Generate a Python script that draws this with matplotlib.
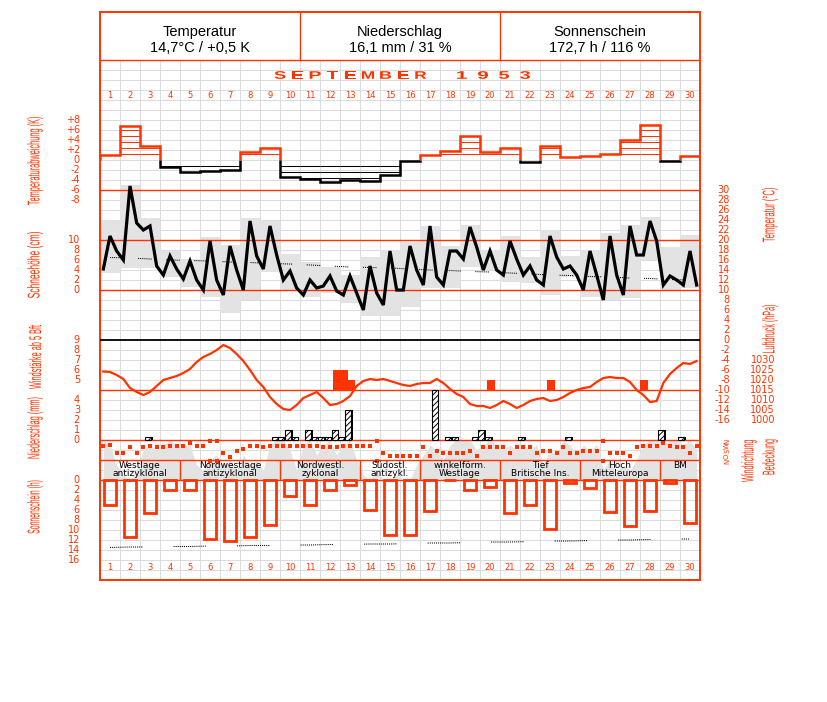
import numpy as np
import matplotlib
matplotlib.use("Agg")
import matplotlib.pyplot as plt
from matplotlib.patches import Rectangle, PathPatch
from matplotlib.textpath import TextPath
from matplotlib.font_manager import FontProperties
from matplotlib.transforms import Affine2D, IdentityTransform

plt.rcParams["font.family"] = ["DejaVu Sans"]

RED = "#ff3300"
GREY = "#e3e3e3"
GRID = "#dcdcdc"
W, H = 827, 702

# ---- data (September 1953) ----
days = np.arange(1, 31)

# daily temperature deviation (K)
temp_dev = [1.0, 6.8, 2.8, -1.4, -2.4, -2.2, -2.0, 1.6, 2.4, -3.4,
            -3.8, -4.4, -4.0, -4.2, -3.0, -0.2, 1.0, 1.8, 4.8, 1.6,
            2.4, -0.4, 2.8, 0.6, 0.8, 1.2, 4.0, 7.0, -0.2, 0.8]

# daily extremes and climatological mean (deg C)
temp_max = [24.0, 31.0, 24.4, 17.8, 16.2, 20.6, 19.0, 24.4, 23.8, 17.2,
            15.6, 14.6, 13.0, 16.6, 18.0, 19.6, 22.8, 18.8, 23.0, 18.0,
            20.8, 16.6, 22.0, 16.8, 18.0, 21.4, 23.0, 24.6, 18.6, 21.0]
temp_min = [13.4, 14.4, 14.4, 12.6, 10.6, 8.6, 5.4, 8.0, 13.6, 10.0,
            8.6, 9.4, 7.4, 4.8, 4.8, 6.6, 10.4, 10.4, 14.6, 14.0,
            11.6, 11.4, 9.0, 12.6, 8.6, 8.0, 8.4, 16.0, 10.0, 10.4]
temp_norm = [16.5, 16.4, 16.2, 16.0, 15.9, 15.8, 15.6, 15.5, 15.3, 15.2,
             15.0, 14.8, 14.6, 14.5, 14.4, 14.2, 14.0, 13.9, 13.7, 13.6,
             13.4, 13.2, 13.0, 12.9, 12.7, 12.6, 12.4, 12.3, 12.1, 12.0]

# temperature at the three daily observations (deg C)
temp_obs = [14.2, 20.8, 17.8, 16.0, 30.8, 23.4, 22.0, 22.8, 14.8, 13.0,
            16.8, 14.2, 12.2, 15.8, 12.0, 10.0, 19.8, 12.0, 9.0, 18.8,
            14.0, 10.0, 23.8, 16.8, 14.2, 22.8, 17.0, 12.0, 13.8, 10.4,
            9.0, 12.0, 10.4, 10.8, 12.8, 9.8, 9.0, 12.8, 9.4, 6.0,
            14.8, 9.4, 7.0, 17.8, 10.0, 10.0, 18.8, 14.0, 11.0, 22.8,
            12.6, 11.0, 17.8, 17.8, 16.2, 22.6, 18.6, 14.0, 17.8, 14.0,
            13.0, 19.8, 16.2, 13.0, 14.8, 12.0, 11.0, 20.8, 16.6, 14.2,
            14.8, 13.0, 10.0, 17.8, 13.0, 8.0, 20.8, 13.0, 9.0, 22.8,
            17.0, 17.0, 23.8, 19.8, 11.0, 12.8, 12.0, 11.0, 17.8, 11.0]

# air pressure (hPa)
pressure = [1024.25, 1024, 1022.5, 1020.5, 1016, 1014, 1012.5, 1014, 1017, 1020,
            1021, 1022, 1023.5, 1025.5, 1029, 1031.5, 1033, 1035, 1037.5, 1036,
            1033, 1029.5, 1025, 1020, 1016.5, 1011.5, 1008, 1005.5, 1005, 1007.5,
            1011, 1012.5, 1014, 1011, 1007.5, 1008, 1009.5, 1012, 1017, 1019.5,
            1020.5, 1020, 1020.5, 1019.5, 1018.5, 1017.5, 1017, 1018, 1018.5, 1018.5,
            1020.5, 1018.5, 1015.5, 1013, 1011.5, 1008, 1007, 1007, 1006, 1007.5,
            1009.5, 1008, 1006, 1007.5, 1009.5, 1010.5, 1011, 1009.5, 1010, 1011.5,
            1013.5, 1015, 1016, 1016.5, 1019, 1021, 1021.5, 1021, 1021, 1019,
            1015, 1012.5, 1009, 1009.5, 1018.5, 1023, 1026, 1028.5, 1028, 1029.5]

# wind direction (deg) at the observations
wind_dir = [270, 288, 144, 144, 252, 144, 252, 270, 252, 252,
            270, 270, 270, 324, 270, 270, 360, 360, 144, 72,
            180, 216, 270, 270, 252, 270, 270, 270, 270, 270,
            270, 270, 270, 252, 252, 252, 270, 270, 270, 270,
            270, 360, 144, 90, 90, 90, 90, 90, 252, 90,
            180, 144, 144, 144, 144, 180, 90, 252, 252, 252,
            252, 144, 252, 252, 252, 144, 180, 180, 144, 252,
            144, 144, 180, 180, 180, 360, 144, 144, 144, 90,
            252, 270, 270, 270, 324, 270, 252, 252, 144, 270]

# cloud cover (octas) at the observations
cloud = [8, 7, 3, 1, 0, 2, 6, 7, 6, 7,
         8, 7, 7, 7, 3, 2, 4, 5, 3, 4,
         2, 5, 3, 4, 2, 7, 8, 8, 6, 2,
         7, 8, 5, 7, 8, 5, 7, 8, 4, 1,
         0, 2, 0, 0, 1, 0, 0, 3, 5, 7,
         6, 4, 7, 8, 8, 8, 6, 7, 8, 7,
         6, 7, 6, 7, 6, 7, 3, 6, 5, 8,
         7, 5, 7, 6, 7, 2, 4, 1, 3, 2,
         4, 7, 8, 8, 7, 8, 8, 7, 8, 6]

# wind force from 5 Bft on (observation index, Bft)
wind_obs = [35, 36, 37, 58, 67, 81]
wind_bft = [6, 6, 5, 5, 5, 5]

# precipitation (observation index, mm)
rain_obs = [7, 26, 27, 28, 29, 31, 32, 33, 34, 35, 36, 37, 50, 52, 53, 56, 57, 58, 63, 70, 84, 87]
rain_mm = [0.3, 0.3, 0.3, 1.0, 0.3, 1.0, 0.3, 0.3, 0.3, 1.0, 0.3, 3.0,
           5.0, 0.3, 0.3, 0.3, 1.0, 0.3, 0.3, 0.3, 1.0, 0.3]

# sunshine duration (h) and possible sunshine (h)
sunshine = [5.0, 11.4, 6.6, 2.0, 2.0, 11.8, 12.2, 11.4, 9.0, 3.2,
            5.0, 2.0, 1.0, 6.0, 11.0, 11.0, 6.2, 0.0, 2.0, 1.4,
            6.6, 5.0, 9.8, 0.6, 1.6, 6.4, 9.2, 6.2, 0.6, 8.6]
sun_possible = [13.5, 13.4, 13.4, 13.3, 13.3, 13.2, 13.2, 13.1, 13.1, 13.0,
                13.0, 12.9, 12.9, 12.8, 12.8, 12.7, 12.6, 12.6, 12.5, 12.4,
                12.4, 12.3, 12.2, 12.2, 12.1, 12.0, 12.0, 11.9, 11.8, 11.8]

weather_types = ["Westlage\nantizyklonal", "Nordwestlage\nantizyklonal", "Nordwestl.\nzyklonal",
                 "Südostl.\nantizykl.", "winkelförm.\nWestlage", "Tief\nBritische Ins.",
                 "Hoch\nMitteleuropa", "BM"]
weather_first = [1, 5, 10, 14, 17, 21, 25, 29]
weather_last = [4, 9, 13, 16, 20, 24, 28, 30]

header_titles = ["Temperatur", "Niederschlag", "Sonnenschein"]
header_values = ["14,7°C / +0,5 K", "16,1 mm / 31 %", "172,7 h / 116 %"]

x_obs = (np.arange(len(temp_obs)) + 0.5) / 3

fig = plt.figure(figsize=(W / 100, H / 100), dpi=100)


def panel(top, bottom, v_top, v_bottom):
    # axes spanning the day columns between two pixel rows
    ax = fig.add_axes([100 / W, 1 - bottom / H, 600 / W, (bottom - top) / H])
    ax.set_xlim(0, 30)
    ax.set_ylim(v_bottom, v_top)
    ax.set_axis_off()
    return ax


def labels(ax, x_px, values, texts, ha="right", size=7, **kw):
    tr = ax.get_yaxis_transform()
    for v, t in zip(values, texts):
        ax.text((x_px - 100) / 600, v, t, transform=tr, ha=ha, va="center",
                color=RED, fontsize=size, **kw)


def stretched(s, x_px, y_px, length_px, size_px, angle=90, weight="normal"):
    # text drawn as a path, squeezed/stretched along its baseline
    tp = TextPath((0, 0), s, size=size_px,
                  prop=FontProperties(family=["Liberation Sans", "DejaVu Sans"],
                                      weight=weight))
    bb = tp.get_extents()
    tr = (Affine2D().translate(-(bb.x0 + bb.x1) / 2, -(bb.y0 + bb.y1) / 2)
          .scale(length_px / bb.width, 1).rotate_deg(angle).translate(x_px, H - y_px))
    fig.add_artist(PathPatch(tr.transform_path(tp), fc=RED, lw=0,
                             transform=IdentityTransform()))


# grid
grid = panel(0, H, 0, H)
grid.vlines(np.arange(1, 30), 60, 580, color=GRID, lw=0.75)
grid.hlines(np.arange(70, 580, 10), 0, 30, color=GRID, lw=0.75)

# temperature ranges (grey boxes)
tbg = panel(180, 430, 32, -18)
tbg.bar(days - 0.5, np.subtract(temp_max, temp_min), bottom=temp_min, width=1.0,
        color=GREY, lw=0)

# cloud cover
cl = panel(440, 480, 8, 0)
cl.fill_between(x_obs, 0, cloud, color=GREY, lw=0)

# separator lines and frame
lines = panel(0, H, 0, H)
lines.hlines([60, 190, 240, 290, 390, 440, 460, 480], 0, 30, color=RED, lw=1.0)
lines.hlines(340, 0, 30, color="black", lw=1.3)
lines.vlines([10, 20], 12, 60, color=RED, lw=1.0)
lines.vlines(weather_last[:-1], 460, 480, color=RED, lw=1.0)
lines.add_patch(Rectangle((0, 12), 30, 568, fill=False, ec=RED, lw=1.4, clip_on=False))

# temperature curve
temp = panel(180, 430, 32, -18)
temp.plot(days - 0.5, temp_norm, color="black", lw=0.75,
          dashes=[1, 1] * 6 + [1, 14])
temp.plot(x_obs, temp_obs, color="black", lw=2.3, solid_joinstyle="miter")
labels(temp, 730, np.arange(30, -17, -2), [str(v) for v in np.arange(30, -17, -2)])

snow = panel(180, 430, 22, -28)
labels(snow, 80, [10, 8, 6, 4, 2, 0], ["10", "8", "6", "4", "2", "0"])

# temperature deviation
dev = panel(100, 200, 12, -8)
dv = np.array(temp_dev)
edges = np.arange(31)
i = 0
while i < 30:
    pos = dv[i] >= 0
    j = i
    while j < 30 and (dv[j] >= 0) == pos:
        j += 1
    dev.stairs(dv[i:j], edges[i:j + 1], baseline=0, color=RED if pos else "black", lw=1.8)
    i = j
for sign, col in [(1, RED), (-1, "black")]:
    ys, x0s = [], []
    for d, v in zip(days, dv):
        if v * sign > 0:
            for k in np.arange(1.2, abs(v), 1.2):
                ys.append(sign * k)
                x0s.append(d - 1)
    dev.hlines(ys, x0s, np.array(x0s) + 1, color=col, lw=0.75)
labels(dev, 80, [8, 6, 4, 2, 0, -2, -4, -6, -8],
       ["+8", "+6", "+4", "+2", "0", "-2", "-4", "-6", "-8"])

# pressure
pr = panel(330, 430, 1045, 995)
pr.plot(x_obs, pressure, color=RED, lw=1.6)
labels(pr, 775, [1030, 1025, 1020, 1015, 1010, 1005, 1000],
       ["1030", "1025", "1020", "1015", "1010", "1005", "1000"])

# wind force
wf = panel(330, 440, 10, -1)
wf.bar(np.array(wind_obs) / 3, np.array(wind_bft) - 4, bottom=4, width=0.4,
       align="edge", color=RED, lw=0)
labels(wf, 80, [9, 8, 7, 6, 5], ["9", "8", "7", "6", "5"])

# precipitation
plt.rcParams["hatch.linewidth"] = 0.7
rn = panel(380, 445, 6, -0.5)
rx = np.array(rain_obs) / 3 - 0.085
rn.bar(rx + 0.08, rain_mm, width=0.3, align="edge", color="black", lw=0)
rn.bar(rx, rain_mm, width=0.3, align="edge", facecolor="white", edgecolor="black",
       hatch="//////", lw=0.8)
labels(rn, 80, [4, 3, 2, 1, 0], ["4", "3", "2", "1", "0"])

# wind direction
wd = panel(436, 466, 450, -90)
wdir = np.array(wind_dir)
wd.plot(x_obs, wdir, "s", color=RED, ms=2.3, mew=0)
north = wdir == 360
wd.plot(x_obs[north], wdir[north] - 360, "s", color=RED, ms=2.3, mew=0)
labels(wd, 727, [360, 270, 180, 90, 0], ["N", "W", "S", "O", "N"], ha="center",
       size=5, rotation=90)

# sunshine
sn = panel(470, 575, -2, 19)
sn.bar(days - 0.5, sunshine, width=0.6, facecolor="none", edgecolor=RED, lw=2.0)
sn.plot(days - 0.5, sun_possible, color="black", lw=0.75,
        dashes=[1, 1] * 15 + [1, 30])
labels(sn, 80, np.arange(0, 17, 2), [str(v) for v in np.arange(0, 17, 2)])

# texts
tx = panel(0, H, 0, H)
for k, (t, v) in enumerate(zip(header_titles, header_values)):
    tx.text(5 + 10 * k, 32, t, ha="center", va="center", fontsize=10.5,
            family=["Liberation Sans", "DejaVu Sans"])
    tx.text(5 + 10 * k, 48, v, ha="center", va="center", fontsize=10.5,
            family=["Liberation Sans", "DejaVu Sans"])

# wide, flat title letters
for k, ch in enumerate("SEPTEMBER"):
    stretched(ch, 280 + 17.6 * k, 75, 12 if ch == "M" else 11, 11, angle=0, weight="bold")
for k, ch in enumerate("1953"):
    stretched(ch, 462 + 21 * k, 75, 10, 11, angle=0, weight="bold")

for d in days:
    for yy in (96, 567):
        tx.text(d - 0.5, yy, str(d), ha="center", va="center", color=RED, fontsize=6)

for name, a, b in zip(weather_types, weather_first, weather_last):
    for r, row in enumerate(name.split("\n")):
        tx.text((a - 1 + b) / 2, 466 + 8 * r, row, ha="center", va="center",
                fontsize=6.5, color="black")

for t, xx, yy, ln in [("Temperaturabweichung (K)", 35, 161, 88),
                      ("Schneehöhe (cm)", 35, 265, 66),
                      ("Windstärke ab 5 Bft", 35, 357, 64),
                      ("Niederschlag (mm)", 35, 428, 61),
                      ("Sonnenschein (h)", 35, 507, 53),
                      ("Temperatur (°C)", 770, 215, 54),
                      ("Luftdruck (hPa)", 770, 329, 48),
                      ("Windrichtung", 749, 461, 42),
                      ("Bedeckung", 770, 457, 35)]:
    stretched(t, xx, yy, ln, 17)

fig.savefig("out.png", dpi=100)
